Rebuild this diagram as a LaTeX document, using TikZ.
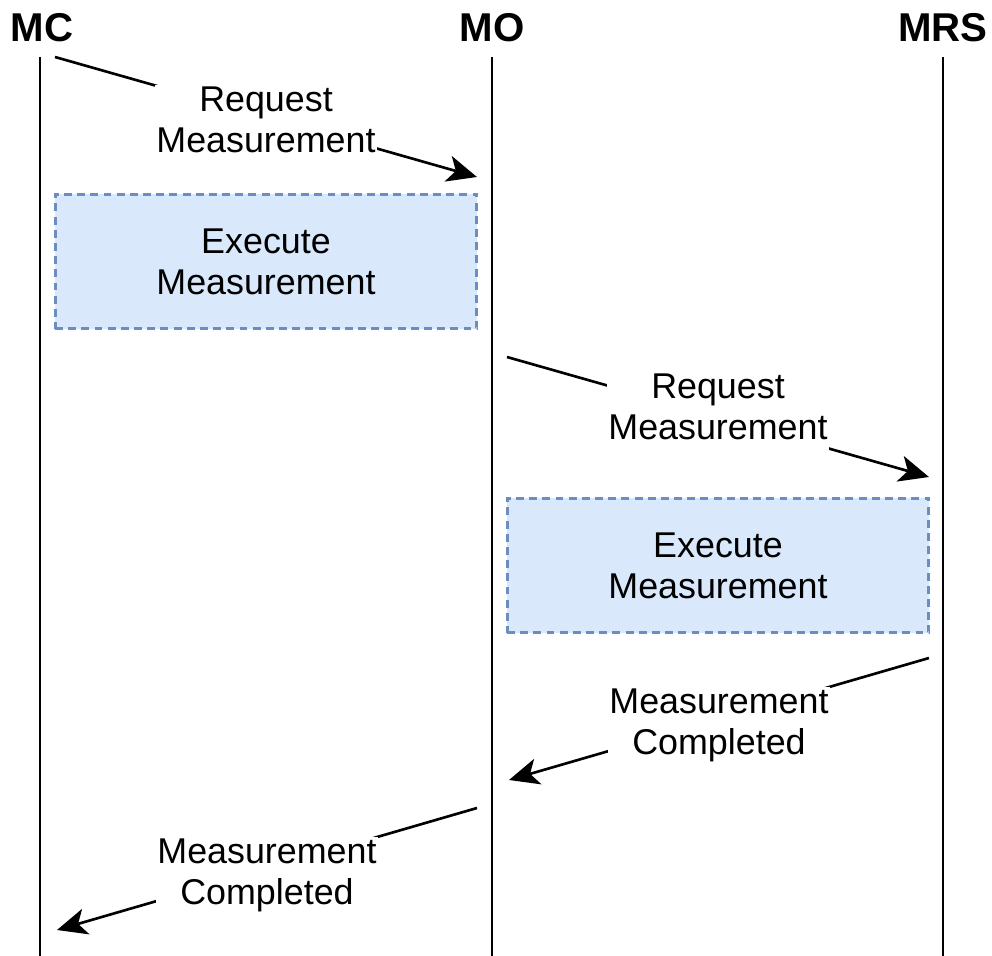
\documentclass[tikz,border=0pt]{standalone}
\usepackage{fontspec}
\setmainfont{Liberation Sans}
\usetikzlibrary{arrows.meta}
\definecolor{boxfill}{HTML}{DAE8FC}
\definecolor{boxline}{HTML}{6C8EBF}

\begin{document}
\begin{tikzpicture}[x=0.02cm,y=-0.02cm]
	\tikzstyle{every node}+=[inner sep=0pt]
	\tikzstyle{actor}=[font=\fontsize{22.9}{26}\selectfont\bfseries]
	\tikzstyle{lifeline}=[black,line width=1.7pt]
	\tikzstyle{msg}=[black,line width=1.5pt,-{Stealth[length=17pt,width=15pt,inset=4.5pt]}]
	\tikzstyle{msglabel}=[fill=white,inner sep=1pt,align=center,font=\fontsize{20.4}{23.4}\selectfont]
	\tikzstyle{execbox}=[draw=boxline,fill=boxfill,line width=1.7pt,dash pattern=on 4.5pt off 3pt,minimum width=8.44cm,minimum height=2.7cm,align=center,font=\fontsize{20.4}{23.4}\selectfont]
	\useasboundingbox (0,0) rectangle (992,956);
	\node [actor] (mc) at (42,28) {MC};
	\node [actor] (mo) at (492,28) {MO};
	\node [actor] (mrs) at (943,28) {MRS};
	\coordinate (mc-top) at (40,57);
	\coordinate (mc-end) at (40,956);
	\coordinate (mo-top) at (492,57);
	\coordinate (mo-end) at (492,956);
	\coordinate (mrs-top) at (943,57);
	\coordinate (mrs-end) at (943,956);
	\draw [lifeline] (mc-top) -- (mc-end);
	\draw [lifeline] (mo-top) -- (mo-end);
	\draw [lifeline] (mrs-top) -- (mrs-end);
	\node [execbox] (exec1) at (266,261.5) {Execute\\Measurement};
	\node [execbox] (exec2) at (718,565.5) {Execute\\Measurement};
	\coordinate (req1-from) at (55,57);
	\coordinate (req1-to) at (477,177);
	\coordinate (req2-from) at (507,357);
	\coordinate (req2-to) at (929,477);
	\coordinate (done1-from) at (929,658);
	\coordinate (done1-to) at (509,780);
	\coordinate (done2-from) at (477,808);
	\coordinate (done2-to) at (57,930);
	\draw [msg] (req1-from) -- node [msglabel,yshift=-1.7pt] (req1) {Request\\Measurement} (req1-to);
	\draw [msg] (req2-from) -- node [msglabel,text depth=5.8pt,yshift=3.1pt] (req2) {Request\\Measurement} (req2-to);
	\draw [msg] (done1-from) -- node [msglabel,yshift=-3.5pt] (done1) {Measurement\\Completed} (done1-to);
	\draw [msg] (done2-from) -- node [msglabel,yshift=-3.5pt] (done2) {Measurement\\Completed} (done2-to);
\end{tikzpicture}
\end{document}
